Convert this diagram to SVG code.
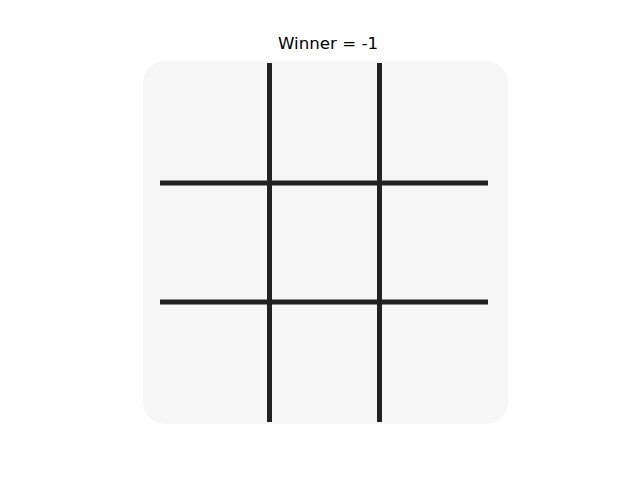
<svg xmlns="http://www.w3.org/2000/svg" width="640" height="480" viewBox="0 0 640 480">
<style>
.grid{stroke:#222;stroke-width:5;fill:none}
.title{font-family:"DejaVu Sans",sans-serif;font-size:16.67px;fill:#000}
</style>
<rect width="640" height="480" fill="#fff"/>
<g id="board">
<rect x="143" y="61" width="365" height="363" rx="22" ry="22" fill="#f6f6f6"/>
</g>
<g id="grid-lines">
<line class="grid" x1="269.5" y1="63" x2="269.5" y2="422"/>
<line class="grid" x1="379.5" y1="63" x2="379.5" y2="422"/>
<line class="grid" x1="160" y1="183" x2="488" y2="183"/>
<line class="grid" x1="160" y1="302" x2="488" y2="302"/>
</g>
<text class="title" x="328" y="49" text-anchor="middle">Winner = -1</text>
</svg>
